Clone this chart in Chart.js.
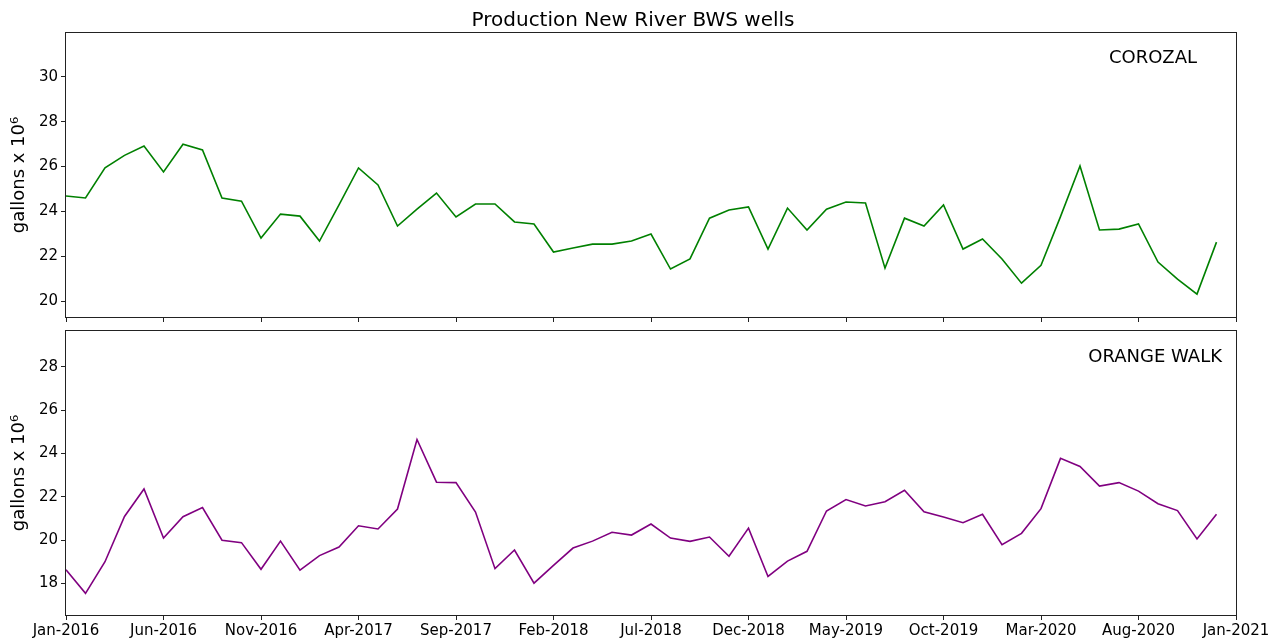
<!DOCTYPE html>
<html>
<head>
<meta charset="utf-8">
<script src="https://cdn.jsdelivr.net/npm/chart.js@4.4.1/dist/chart.umd.min.js"></script>
<style>
  body { margin: 0; background: #fff; }
  #wrap { position: relative; width: 1284px; height: 644px; }
  canvas { position: absolute; left: 0; }
</style>
</head>
<body>
<div id="wrap">
  <canvas id="corozal" width="1284" height="330" style="top:0px"></canvas>
  <canvas id="orangeWalk" width="1284" height="344" style="top:300px"></canvas>
</div>
<script>
// monthly production, Jan-2016 .. Dec-2020 (gallons x 10^6)
const corozal = [24.69, 24.6, 25.94, 26.5, 26.92, 25.76, 27.0, 26.74, 24.6, 24.46,
  22.81, 23.88, 23.79, 22.68, 24.29, 25.94, 25.18, 23.35, 24.1, 24.82,
  23.75, 24.33, 24.33, 23.53, 23.44, 22.19, 22.37, 22.54, 22.54, 22.68,
  22.99, 21.43, 21.88, 23.7, 24.06, 24.2, 22.32, 24.15, 23.17, 24.1,
  24.42, 24.38, 21.47, 23.7, 23.35, 24.29, 22.32, 22.77, 21.88, 20.8,
  21.6, 23.77, 26.03, 23.17, 23.21, 23.44, 21.74, 20.98, 20.31, 22.63];

const orangeWalk = [18.63, 17.54, 19.0, 21.09, 22.36, 20.09, 21.08, 21.5, 19.99, 19.88,
  18.65, 19.95, 18.61, 19.28, 19.68, 20.66, 20.51, 21.43, 24.64, 22.67,
  22.65, 21.29, 18.68, 19.54, 18.01, 18.83, 19.63, 19.95, 20.36, 20.23,
  20.74, 20.09, 19.94, 20.14, 19.25, 20.55, 18.32, 19.03, 19.48, 21.34,
  21.87, 21.57, 21.77, 22.3, 21.31, 21.06, 20.8, 21.19, 19.79, 20.31,
  21.45, 23.77, 23.4, 22.49, 22.65, 22.26, 21.68, 21.36, 20.05, 21.19];

// x ticks every 5 months starting Jan-2016
const xTickLabels = ['Jan-2016', 'Jun-2016', 'Nov-2016', 'Apr-2017', 'Sep-2017', 'Feb-2018',
  'Jul-2018', 'Dec-2018', 'May-2019', 'Oct-2019', 'Mar-2020', 'Aug-2020', 'Jan-2021'];
const monthsPerTick = 5;

const corozalTicks = [20, 22, 24, 26, 28, 30];
const orangeWalkTicks = [18, 20, 22, 24, 26, 28];

const FONT = 'DejaVu Sans';

// axes frame + station name (+ optional figure title)
const framePlugin = {
  id: 'frame',
  afterDraw(chart, args, opts) {
    const { ctx, chartArea: a } = chart;
    ctx.save();
    ctx.strokeStyle = '#222';
    ctx.lineWidth = 1;
    ctx.strokeRect(a.left - 0.5, a.top - 0.5, a.right - a.left + 1, a.bottom - a.top + 1);
    ctx.fillStyle = '#000';
    ctx.font = '18px "' + FONT + '"';
    ctx.textAlign = 'right';
    ctx.textBaseline = 'alphabetic';
    ctx.fillText(opts.name, a.right - opts.dx, a.top + opts.dy);
    if (opts.title) {
      ctx.font = '20px "' + FONT + '"';
      ctx.textAlign = 'center';
      ctx.fillText(opts.title, 633, 26);
    }
    ctx.restore();
  }
};

function makePanel(id, values, color, yMin, yMax, yTicks, cfg) {
  const points = values.map((v, i) => ({ x: i, y: v }));
  return new Chart(document.getElementById(id), {
    type: 'line',
    data: {
      datasets: [{
        data: points,
        borderColor: color,
        borderWidth: 1.6,
        pointRadius: 0,
        tension: 0,
        fill: false
      }]
    },
    options: {
      responsive: false,
      animation: false,
      layout: { padding: { top: cfg.padTop, left: 0, right: 48, bottom: 0 } },
      plugins: {
        legend: { display: false },
        tooltip: { enabled: false },
        frame: { name: cfg.name, dx: cfg.dx, dy: cfg.dy, title: cfg.title }
      },
      scales: {
        x: {
          type: 'linear',
          min: 0,
          max: (xTickLabels.length - 1) * monthsPerTick,
          afterBuildTicks: s => { s.ticks = xTickLabels.map((t, i) => ({ value: i * monthsPerTick })); },
          afterFit: s => { s.height = cfg.xHeight; },
          border: { display: false },
          grid: { drawOnChartArea: false, drawTicks: true, tickLength: 5, tickColor: '#222', tickWidth: 1 },
          ticks: {
            display: cfg.showX,
            autoSkip: false,
            maxRotation: 0,
            padding: 2,
            color: '#000',
            font: { family: FONT, size: 15 },
            callback: (v, i) => xTickLabels[i]
          }
        },
        y: {
          min: yMin,
          max: yMax,
          afterBuildTicks: s => { s.ticks = yTicks.map(v => ({ value: v })); },
          afterFit: s => { s.width = 66; },
          border: { display: false },
          grid: { drawOnChartArea: false, drawTicks: true, tickLength: 5, tickColor: '#222', tickWidth: 1 },
          ticks: { padding: 3, color: '#000', font: { family: FONT, size: 15 } },
          title: {
            display: true,
            text: 'gallons x 10⁶',
            color: '#000',
            font: { family: FONT, size: 18 },
            padding: { top: 9, bottom: 0 }
          }
        }
      }
    },
    plugins: [framePlugin]
  });
}

makePanel('corozal', corozal, 'green', 19.29, 31.96, corozalTicks,
  { padTop: 33, xHeight: 13, showX: false, name: 'COROZAL', dx: 39, dy: 30,
    title: 'Production New River BWS wells' });

makePanel('orangeWalk', orangeWalk, 'purple', 16.54, 29.65, orangeWalkTicks,
  { padTop: 31, xHeight: 29, showX: true, name: 'ORANGE WALK', dx: 14, dy: 31 });
</script>
</body>
</html>
